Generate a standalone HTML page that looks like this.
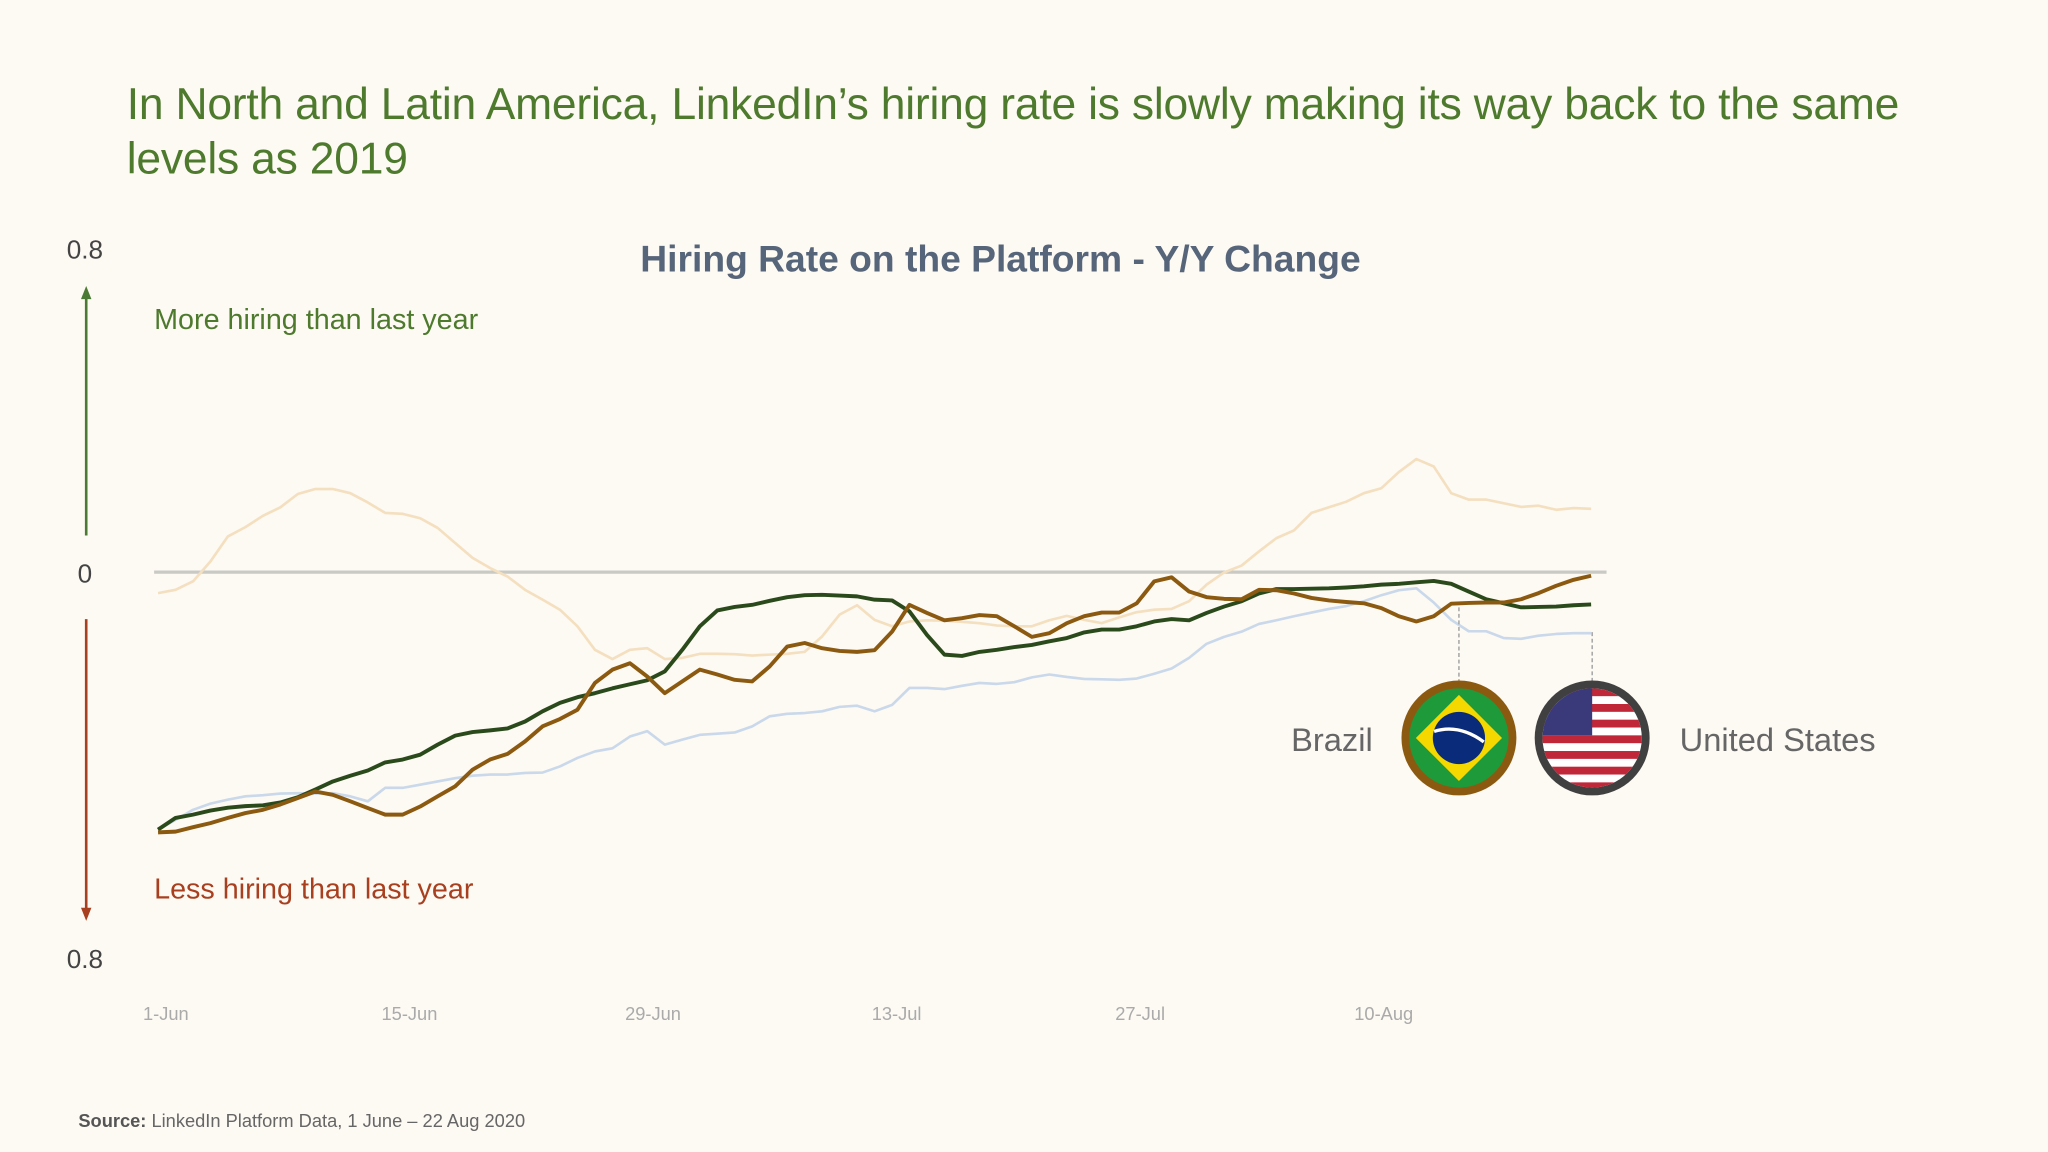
<!DOCTYPE html>
<html><head><meta charset="utf-8"><style>
html,body{margin:0;padding:0;background:#fdf9f3;}
svg{display:block;font-family:"Liberation Sans",sans-serif;}
</style></head><body>
<svg id="chart" width="2048" height="1152" viewBox="0 0 1568 882" xmlns="http://www.w3.org/2000/svg">
<rect width="1568" height="882" fill="#fdf9f3"/>
<g fill="#4e7a2e" font-size="34" letter-spacing="-0.15">
<text x="97" y="91">In North and Latin America, LinkedIn’s hiring rate is slowly making its way back to the same</text>
<text x="97" y="133">levels as 2019</text>
</g>
<text x="766" y="208" text-anchor="middle" font-size="28.5" font-weight="bold" fill="#56657a">Hiring Rate on the Platform - Y/Y Change</text>
<g fill="#444" font-size="20">
<text x="65" y="198" text-anchor="middle">0.8</text>
<text x="65" y="446" text-anchor="middle">0</text>
<text x="65" y="741" text-anchor="middle">0.8</text>
</g>
<g>
<line x1="66" y1="410" x2="66" y2="228" stroke="#4a7a34" stroke-width="2"/>
<polygon points="62,229 70,229 66,219" fill="#4a7a34"/>
</g>
<g>
<line x1="66" y1="474" x2="66" y2="696" stroke="#a8401f" stroke-width="2"/>
<polygon points="62,695 70,695 66,705" fill="#a8401f"/>
</g>
<text x="118" y="252" font-size="22" fill="#4e7a2e">More hiring than last year</text>
<text x="118" y="688" font-size="22" fill="#a8401f">Less hiring than last year</text>
<line x1="118" y1="438" x2="1230" y2="438" stroke="#cacac4" stroke-width="2.5"/>
<g id="xaxis" fill="#aaa" font-size="14"></g>
<g id="series"></g>
<g>
<line x1="1117" y1="465" x2="1117" y2="522" stroke="#999" stroke-width="1" stroke-dasharray="3,2"/>
<circle cx="1117" cy="565" r="44" fill="#8b5a10"/>
<circle cx="1117" cy="565" r="38" fill="#1e9a3a"/>
<polygon points="1117,532 1150,565 1117,598 1084,565" fill="#f5d800"/>
<circle cx="1117" cy="565" r="20" fill="#0a2a7a"/>
<path d="M1098,560 Q1117,554 1136,568" stroke="#fff" stroke-width="2.5" fill="none"/>
</g>
<g>
<line x1="1219" y1="484" x2="1219" y2="522" stroke="#999" stroke-width="1" stroke-dasharray="3,2"/>
<clipPath id="usclip"><circle cx="1219" cy="565" r="38"/></clipPath>
<circle cx="1219" cy="565" r="44" fill="#404040"/>
<g clip-path="url(#usclip)">
<rect x="1178" y="525" width="82" height="82" fill="#fff"/>
<rect x="1178" y="527" width="82" height="6" fill="#c0283a"/>
<rect x="1178" y="539" width="82" height="6" fill="#c0283a"/>
<rect x="1178" y="551" width="82" height="6" fill="#c0283a"/>
<rect x="1178" y="563" width="82" height="6" fill="#c0283a"/>
<rect x="1178" y="575" width="82" height="6" fill="#c0283a"/>
<rect x="1178" y="587" width="82" height="6" fill="#c0283a"/>
<rect x="1178" y="599" width="82" height="6" fill="#c0283a"/>
<rect x="1178" y="525" width="41" height="38" fill="#3a3a7a"/>
</g>
</g>
<text x="1051" y="575" text-anchor="end" font-size="25" fill="#666">Brazil</text>
<text x="1286" y="575" font-size="25" fill="#666">United States</text>
<text x="60" y="863" font-size="14" fill="#666"><tspan font-weight="bold" fill="#555">Source:</tspan> LinkedIn Platform Data, 1 June – 22 Aug 2020</text>
</svg>
<script>
const tickLabels = ["1-Jun","15-Jun","29-Jun","13-Jul","27-Jul","10-Aug"];
const tickDays = [0,14,28,42,56,70];
const usValues = [-63.6,-60.7,-59.9,-58.9,-58.2,-57.8,-57.6,-56.9,-55.6,-53.7,-51.7,-50.3,-49.0,-47.0,-46.3,-45.1,-42.6,-40.4,-39.5,-39.1,-38.6,-36.9,-34.4,-32.3,-30.9,-29.9,-28.7,-27.7,-26.7,-24.5,-19.2,-13.4,-9.5,-8.6,-8.1,-7.1,-6.2,-5.7,-5.6,-5.8,-6.0,-6.8,-7.0,-9.7,-15.5,-20.4,-20.7,-19.7,-19.2,-18.5,-18.0,-17.1,-16.3,-14.9,-14.2,-14.2,-13.4,-12.2,-11.6,-11.9,-10.1,-8.5,-7.2,-5.3,-4.2,-4.2,-4.1,-4.0,-3.8,-3.5,-3.1,-2.9,-2.5,-2.2,-2.9,-4.8,-6.7,-7.7,-8.7,-8.6,-8.5,-8.2,-8.0];
const brazilValues = [-64.3,-64.1,-63.0,-62.0,-60.7,-59.5,-58.7,-57.4,-55.8,-54.2,-55.0,-56.6,-58.3,-59.9,-59.9,-57.9,-55.4,-52.9,-48.8,-46.3,-44.9,-41.8,-38.1,-36.3,-34.0,-27.4,-24.1,-22.5,-25.8,-29.9,-27.0,-24.1,-25.3,-26.6,-27.0,-23.3,-18.4,-17.5,-18.8,-19.5,-19.7,-19.3,-14.7,-8.1,-10.1,-11.9,-11.4,-10.6,-10.9,-13.4,-16.0,-15.1,-12.6,-10.9,-10.0,-10.0,-7.7,-2.3,-1.3,-4.8,-6.2,-6.6,-6.7,-4.4,-4.5,-5.3,-6.4,-7.0,-7.4,-7.7,-8.9,-10.9,-12.2,-10.9,-7.8,-7.6,-7.5,-7.5,-6.7,-5.2,-3.4,-1.9,-0.9];
const blueValues = [-63.6,-61.2,-58.7,-57.2,-56.2,-55.4,-55.1,-54.7,-54.6,-54.7,-54.6,-55.4,-56.6,-53.3,-53.3,-52.5,-51.7,-50.9,-50.3,-50.0,-50.0,-49.6,-49.5,-48.0,-45.9,-44.3,-43.5,-40.6,-39.3,-42.6,-41.4,-40.2,-39.9,-39.6,-38.1,-35.6,-35.0,-34.8,-34.4,-33.3,-33.0,-34.4,-32.8,-28.6,-28.6,-28.9,-28.1,-27.4,-27.6,-27.2,-26.0,-25.3,-25.9,-26.4,-26.5,-26.6,-26.3,-25.1,-23.8,-21.2,-17.7,-16.0,-14.7,-12.8,-11.9,-10.9,-10.0,-9.1,-8.4,-7.2,-5.7,-4.5,-4.0,-7.5,-11.8,-14.6,-14.6,-16.3,-16.5,-15.7,-15.3,-15.1,-15.1];
const paleValues = [-5.2,-4.4,-2.3,2.6,8.8,11.1,13.9,16.0,19.3,20.5,20.5,19.5,17.2,14.6,14.4,13.3,10.9,7.2,3.5,1.0,-1.1,-4.4,-6.8,-9.3,-13.4,-19.2,-21.5,-19.2,-18.8,-21.5,-21.2,-20.2,-20.2,-20.3,-20.6,-20.4,-20.2,-19.7,-15.9,-10.5,-8.2,-11.8,-13.4,-12.2,-11.9,-12.0,-12.3,-12.6,-13.2,-13.4,-13.4,-11.9,-10.8,-11.8,-12.6,-11.2,-9.9,-9.3,-9.1,-7.2,-3.1,-0.1,1.6,5.1,8.4,10.3,14.6,16.0,17.4,19.5,20.7,24.7,27.9,26.1,19.5,17.9,17.9,17.0,16.1,16.4,15.4,15.8,15.6];

const NS = "http://www.w3.org/2000/svg";
function xScale(d){ return 121 + d * 13.38; }
function yScale(v){ return 438 - v / 100 * 310; }

const xa = document.getElementById('xaxis');
tickLabels.forEach((lab, i) => {
  const t = document.createElementNS(NS, 'text');
  
  
  t.setAttribute('x', 127 + tickDays[i] * 13.32);
  t.setAttribute('y', 781);
  t.setAttribute('text-anchor', 'middle');
  t.textContent = lab;
  xa.appendChild(t);
});

const sg = document.getElementById('series');
function drawLine(vals, color, width, name){
  const p = document.createElementNS(NS, 'polyline');
  
  
  p.setAttribute('points', vals.map((v, i) => xScale(i).toFixed(1) + ',' + yScale(v).toFixed(1)).join(' '));
  p.setAttribute('fill', 'none');
  p.setAttribute('stroke', color);
  p.setAttribute('stroke-width', width);
  p.setAttribute('stroke-linejoin', 'round');
  sg.appendChild(p);
}
drawLine(paleValues, '#f4dfbf', 2, 'pale-series-line');
drawLine(blueValues, '#c9d8ea', 2, 'blue-series-line');
drawLine(usValues, '#2b4a1c', 3, 'us-series-line');
drawLine(brazilValues, '#8b5a10', 3, 'brazil-series-line');
</script>
</body></html>
